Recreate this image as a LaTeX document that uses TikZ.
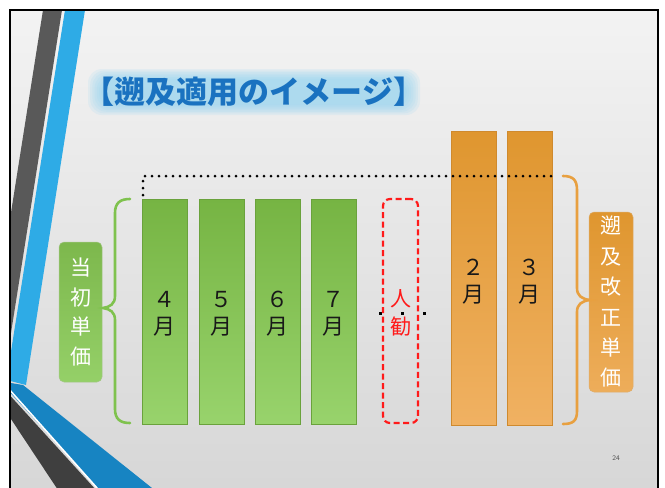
\documentclass[tikz,border=0pt]{standalone}
\usepackage{fontspec}
\newfontfamily\cjk{Noto Sans CJK JP}
\definecolor{bgtop}{HTML}{F3F3F3}
\definecolor{bgbot}{HTML}{D5D5D5}
\definecolor{stripeblue}{HTML}{2EABE6}
\definecolor{wedgeblue}{HTML}{1784C2}
\definecolor{darkgrayA}{HTML}{595959}
\definecolor{darkgrayB}{HTML}{3F3F3F}
\definecolor{greentop}{HTML}{76B443}
\definecolor{greenbot}{HTML}{98D36C}
\definecolor{greenedge}{HTML}{6AA23C}
\definecolor{bracegreen}{HTML}{7FC24E}
\definecolor{orangetop}{HTML}{DF962F}
\definecolor{orangebot}{HTML}{F0B162}
\definecolor{orangeedge}{HTML}{CF8A2E}
\definecolor{braceorange}{HTML}{E8A040}
\definecolor{titleblue}{HTML}{1A72C0}
\definecolor{glowblue}{HTML}{8FD3F5}
\definecolor{dashred}{HTML}{FF1A1A}
\tikzset{
  gbar/.style={shade, top color=greentop, bottom color=greenbot, draw=greenedge, line width=0.6pt,
    minimum width=45pt, minimum height=225pt, inner sep=0pt, align=center,
    font=\cjk\fontsize{22}{27}\selectfont, text=black!90},
  obar/.style={shade, top color=orangetop, bottom color=orangebot, draw=orangeedge, line width=0.6pt,
    minimum width=45pt, minimum height=294pt, inner sep=0pt, align=center,
    font=\cjk\fontsize{22}{28}\selectfont, text=black!90},
  monthtxt/.style={align=center, inner sep=0pt, font=\cjk\fontsize{22}{27}\selectfont, text=black!90},
  glabel/.style={shade, top color=greentop!95!white, bottom color=greenbot!90!greentop, draw=greenedge!60, line width=0.5pt,
    rounded corners=5pt, minimum width=43pt, minimum height=140pt, inner sep=0pt, align=center,
    font=\cjk\fontsize{21}{29.5}\selectfont, text=white},
  olabel/.style={shade, top color=orangetop, bottom color=orangebot!85!orangetop, draw=orangeedge!70, line width=0.5pt,
    rounded corners=5pt, minimum width=44pt, minimum height=180pt, inner sep=0pt, align=center,
    font=\cjk\fontsize{21}{30.4}\selectfont, text=white},
  gbrace/.style={draw=bracegreen, line width=2.6pt, line cap=round},
  obrace/.style={draw=braceorange, line width=2.6pt, line cap=round},
  dotline/.style={line width=3pt, line cap=round, dash pattern=on 0pt off 7pt},
  redbox/.style={draw=dashred, line width=2.2pt, dash pattern=on 6pt off 3.5pt, rounded corners=7pt,
    minimum width=35pt, minimum height=224pt, inner sep=0pt},
  titletxt/.style={inner sep=0pt, font=\cjk\bfseries\fontsize{31}{31}\selectfont},
}
\begin{document}
\begin{tikzpicture}[x=1pt,y=-1pt]
\useasboundingbox (0,0) rectangle (665,488);
\clip (0,0) rectangle (665,488);
\fill[white] (0,0) rectangle (665,488);
% slide background
\shade[top color=bgtop, bottom color=bgbot] (10,10) rectangle (658,520);
% decorative stripes
\begin{scope}
\clip (10,10) rectangle (658,520);
\fill[darkgrayA] (43,10) -- (62,10) -- (-15.4,500) -- (-34.4,500) -- cycle;
\fill[wedgeblue] (5,382) -- (23,385) -- (152,488) -- (98,488) -- (5,387) -- cycle;
\fill[stripeblue] (65,10) -- (85,10) -- (26,385) -- (6.5,380) -- cycle;
\draw[white, line width=1.6pt] (8,388) -- (97,488);
\fill[darkgrayB] (5,390) -- (96,490) -- (58,490) -- (5,410) -- cycle;
\end{scope}
% frame
\draw[black, line width=2.6pt] (10,10) rectangle (658,560);
% title glow (soft band behind the title)
\foreach \i in {0,...,6}{
  \fill[glowblue, opacity=0.14, rounded corners=14pt]
    ({88+\i*2.2},{69+\i*1.6}) rectangle ({420-\i*2.2},{115-\i*1.6});
}
\node[titletxt, text=titleblue] (title) at (254,92) {【遡及適用のイメージ】};
% dotted line
\coordinate (dotstart) at (143,195);
\coordinate (dotcorner) at (143,176);
\coordinate (dotend) at (552,176);
% green bars
\node[gbar] (m4) at (164.5,311.5) {};
\node[gbar] (m5) at (221.5,311.5) {};
\node[gbar] (m6) at (277.5,311.5) {};
\node[gbar] (m7) at (333.5,311.5) {};
\node[monthtxt] (t4) at (164.5,314) {４\\月};
\node[monthtxt] (t5) at (221.5,314) {５\\月};
\node[monthtxt] (t6) at (277.5,314) {６\\月};
\node[monthtxt] (t7) at (333.5,314) {７\\月};
% orange bars
\node[obar] (m2) at (473.5,278) {};
\node[obar] (m3) at (529.5,278) {};
\node[monthtxt] (t2) at (473.5,282) {２\\月};
\node[monthtxt] (t3) at (529.5,282) {３\\月};
% dotted line drawn over
\draw[dotline] (dotstart) -- (dotcorner) -- (dotend);
% three small dots
\fill[black] (378.5,311.5) rectangle (381.5,314.5);
\fill[black] (400.5,311.5) rectangle (403.5,314.5);
\fill[black] (422.5,311.5) rectangle (425.5,314.5);
% red dashed box
\node[redbox] (jinkan) at (400.5,311) {};
\node[monthtxt, text=dashred, font=\cjk\fontsize{21}{28}\selectfont] (jinkantxt) at (400.5,313) {人\\勧};
% labels
\node[glabel] (lblA) at (80.5,312) {当\\初\\単\\価};
\node[olabel] (lblB) at (611,302) {遡\\及\\改\\正\\単\\価};
% braces
\draw[gbrace] (130,199) .. controls (120,199) and (115,203) .. (115,213) -- (115,296)
  .. controls (115,304) and (110,307) .. (103,308)
  .. controls (110,309) and (115,312) .. (115,320) -- (115,409)
  .. controls (115,419) and (120,423) .. (130,423);
\draw[obrace] (563,176) .. controls (573,176) and (577,180) .. (577,190) -- (577,288)
  .. controls (577,296) and (582,299) .. (590,300)
  .. controls (582,301) and (577,304) .. (577,312) -- (577,411)
  .. controls (577,421) and (573,424) .. (563,424);
% page number
\node[inner sep=0pt, font=\sffamily\fontsize{7}{7}\selectfont, text=black!70] (pg) at (616,458) {24};
\end{tikzpicture}
\end{document}
